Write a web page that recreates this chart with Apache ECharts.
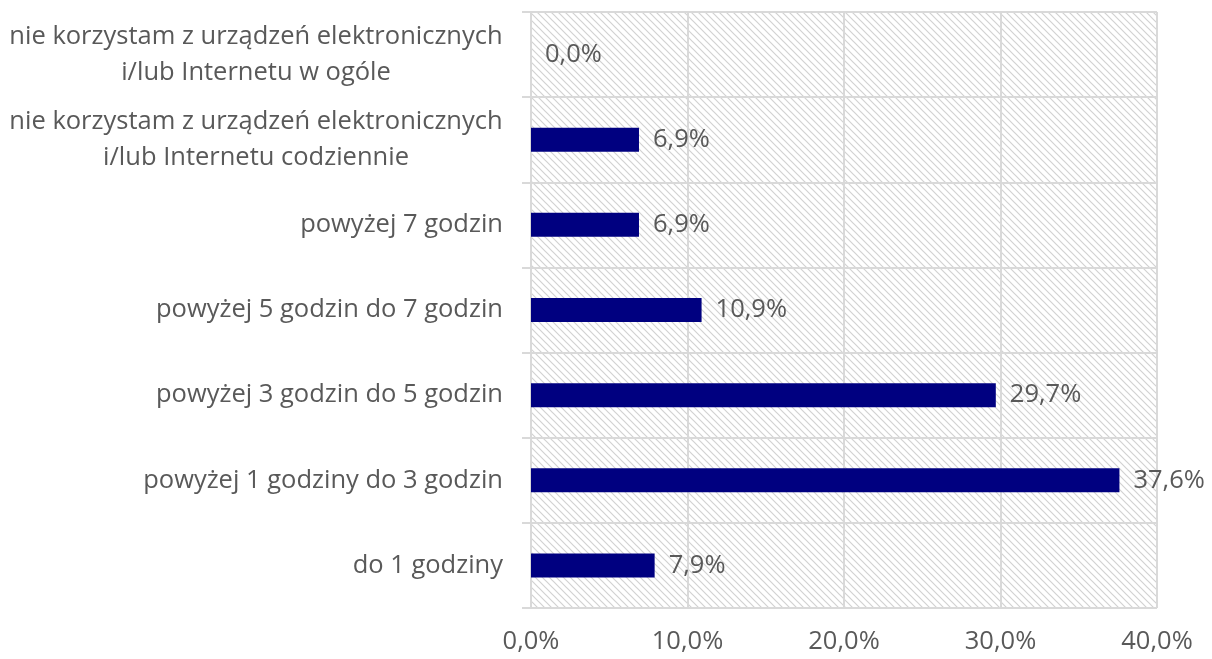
<!DOCTYPE html>
<html><head><meta charset="utf-8">
<script src="https://cdn.jsdelivr.net/npm/echarts@6/dist/echarts.min.js"></script>
<style>html,body{margin:0;padding:0;background:#fff}#c{width:1212px;height:659px}</style>
</head><body><div id="c"></div>
<script>
const categories = [
  "do 1 godziny",
  "powyżej 1 godziny do 3 godzin",
  "powyżej 3 godzin do 5 godzin",
  "powyżej 5 godzin do 7 godzin",
  "powyżej 7 godzin",
  "nie korzystam z urządzeń elektronicznych\ni/lub Internetu codziennie",
  "nie korzystam z urządzeń elektronicznych\ni/lub Internetu w ogóle"
];
const values = [7.9, 37.6, 29.7, 10.9, 6.9, 6.9, 0.0];
const xTicks = [0, 10, 20, 30, 40];

const FONT = "Open Sans";
const FS = 25.5;
const TXT = "#595959";

// hatch pattern
const tile = document.createElement('canvas');
tile.width = 7; tile.height = 7;
const g = tile.getContext('2d');
g.fillStyle = '#ffffff'; g.fillRect(0,0,7,7);
g.strokeStyle = '#d2d2d2'; g.lineWidth = 1.2;
g.beginPath();
g.moveTo(-1,-1); g.lineTo(8,8);
g.moveTo(-8,-1); g.lineTo(1,8);
g.moveTo(6,-1); g.lineTo(15,8);
g.stroke();

// measure for centered multi-line labels
const mc = document.createElement('canvas').getContext('2d');
mc.font = FS + 'px "' + FONT + '"';
const rich = {};
const fmtMap = {};
categories.forEach((c, i) => {
  const lines = c.split('\n');
  if (lines.length > 1) {
    const w = Math.max(...lines.map(l => mc.measureText(l).width));
    rich['c' + i] = {width: Math.ceil(w), align: 'center', fontSize: FS, fontFamily: FONT, color: TXT, lineHeight: 36};
    fmtMap[c] = lines.map(l => '{c' + i + '|' + l + '}').join('\n');
  } else {
    fmtMap[c] = c;
  }
});

const chart = echarts.init(document.getElementById('c'));
chart.setOption({
  animation: false,
  grid: {left: 531, right: 55, top: 12, bottom: 51, containLabel: false,
         show: true, borderWidth: 0, backgroundColor: {image: tile, repeat: 'repeat'}},
  xAxis: {
    type: 'value', min: 0, max: 40, interval: 10,
    axisLine: {show: false}, axisTick: {show: false},
    splitLine: {show: true, lineStyle: {color: '#d9d9d9', width: 2}},
    axisLabel: {formatter: v => v.toFixed(1).replace('.', ',') + '%', fontSize: FS, fontFamily: FONT, color: TXT, margin: 21}
  },
  yAxis: {
    type: 'category', data: categories,
    axisLine: {show: true, lineStyle: {color: '#d9d9d9', width: 2}},
    axisTick: {show: true, length: 9, lineStyle: {color: '#d9d9d9', width: 2}},
    splitLine: {show: true, lineStyle: {color: '#d9d9d9', width: 2}},
    axisLabel: {formatter: v => fmtMap[v], fontSize: FS, fontFamily: FONT, color: TXT, margin: 28, lineHeight: 36, rich: rich}
  },
  series: [{
    type: 'bar', data: values, barWidth: 24,
    itemStyle: {color: '#000080'},
    label: {show: true, position: 'right', distance: 14, fontSize: FS, fontFamily: FONT, color: TXT,
            formatter: p => p.value.toFixed(1).replace('.', ',') + '%'}
  }]
});
</script></body></html>
